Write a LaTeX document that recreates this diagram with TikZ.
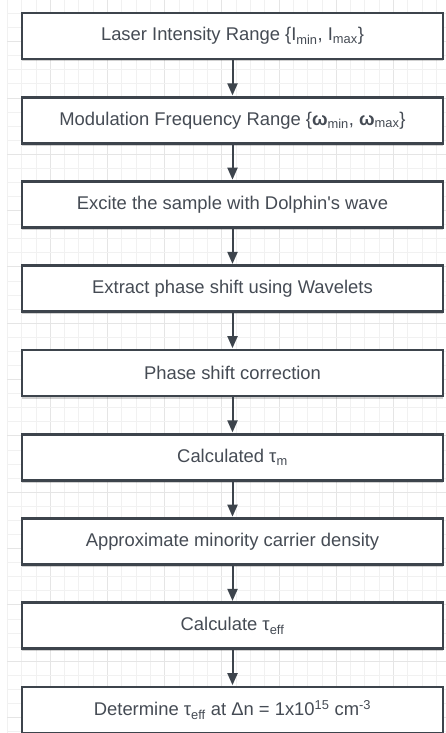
\documentclass[tikz,border=0pt]{standalone}
\usepackage{fontspec}
\setmainfont{Liberation Sans}
\usetikzlibrary{arrows.meta,shadows}
\definecolor{edgecol}{HTML}{3D444C}
\definecolor{txtcol}{HTML}{454B54}
\definecolor{gridminor}{HTML}{F1F1F1}
\definecolor{gridmajor}{HTML}{E5E5E5}
\tikzset{
  stepbox/.style={draw=edgecol, line width=2.7pt, fill=white, minimum width=421pt, minimum height=46pt,
    inner sep=0pt, text=txtcol, font=\fontsize{18.4}{22}\selectfont,
    drop shadow={shadow xshift=0pt, shadow yshift=-2.5pt, opacity=0.18, fill=black}},
  flow/.style={draw=edgecol, line width=2pt, -{Triangle[width=10pt,length=12pt]}},
  gminor/.style={draw=gridminor, line width=0.8pt},
  gmajor/.style={draw=gridmajor, line width=0.9pt}
}
\begin{document}
\begin{tikzpicture}[x=1pt,y=-1pt]
\useasboundingbox (0,0) rectangle (446,733);
\fill[white] (0,0) rectangle (446,733);
% grid
\foreach \k in {0,...,30}{
  \pgfmathtruncatemacro{\m}{mod(\k,4)}
  \ifnum\m=3 \draw[gmajor] ({7.3+14.3*\k},0) -- ({7.3+14.3*\k},733);
  \else \draw[gminor] ({7.3+14.3*\k},0) -- ({7.3+14.3*\k},733); \fi
}
\foreach \k in {1,...,52}{
  \pgfmathtruncatemacro{\m}{mod(\k,4)}
  \ifnum\m=3 \draw[gmajor] (7.3,{-0.6+14.08*\k}) -- (446,{-0.6+14.08*\k});
  \else \draw[gminor] (7.3,{-0.6+14.08*\k}) -- (446,{-0.6+14.08*\k}); \fi
}
% boxes
\node[stepbox] (b1) at (232.5,36) {Laser Intensity Range \{I\textsubscript{min}, I\textsubscript{max}\}};
\node[stepbox] (b2) at (232.5,120.25) {Modulation Frequency Range \{\textbf{ω}\textsubscript{min}, \textbf{ω}\textsubscript{max}\}};
\node[stepbox] (b3) at (232.5,204.5) {Excite the sample with Dolphin\textquotesingle s wave};
\node[stepbox] (b4) at (232.5,288.75) {Extract phase shift using Wavelets};
\node[stepbox] (b5) at (232.5,373) {Phase shift correction};
\node[stepbox] (b6) at (232.5,457.25) {Calculated τ\textsubscript{m}};
\node[stepbox] (b7) at (232.5,541.5) {Approximate minority carrier density};
\node[stepbox] (b8) at (232.5,625.75) {Calculate τ\textsubscript{eff}};
\node[stepbox] (b9) at (232.5,710) {Determine τ\textsubscript{eff} at Δn = 1x10\textsuperscript{15} cm\textsuperscript{-3}};
% connectors
\foreach \a/\b in {b1/b2,b2/b3,b3/b4,b4/b5,b5/b6,b6/b7,b7/b8,b8/b9}
  \draw[flow] (\a.south) -- ([yshift=0.5pt]\b.north);
\end{tikzpicture}
\end{document}
